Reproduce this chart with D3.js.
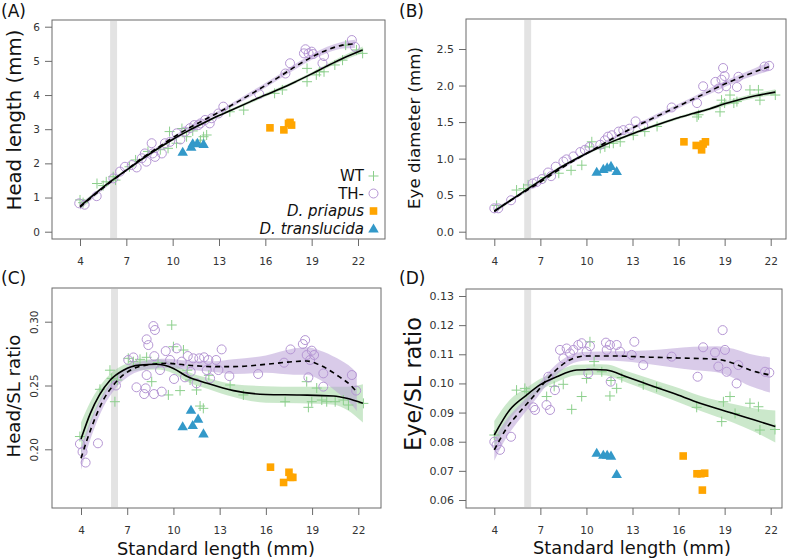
<!DOCTYPE html>
<html><head><meta charset="utf-8">
<script src="https://cdn.jsdelivr.net/npm/d3@7"></script>
<style>body{margin:0;background:#fff}svg{display:block;font-family:"DejaVu Sans",Verdana,sans-serif}</style>
</head><body><svg id="c" width="800" height="560"></svg>
<script>
// ---------- tick labels / categories ----------
const xTicks = [4, 7, 10, 13, 16, 19, 22];
const headTicks = [0, 1, 2, 3, 4, 5, 6];
const eyeTicks = [0, 0.5, 1, 1.5, 2, 2.5];
const headRatioTicks = [0.20, 0.25, 0.30];
const eyeRatioTicks = [0.06, 0.07, 0.08, 0.09, 0.10, 0.11, 0.12, 0.13];
const bandSL = [5.95, 6.4];
const groups = ["WT", "TH-", "D. priapus", "D. translucida"];

// ---------- (A) head length ----------
const wtHead = [[4.0,0.93],[4.2,0.85],[5.1,1.41],[5.5,1.35],[5.7,1.46],[6.15,1.61],[6.3,1.51],[7.2,1.90],[7.6,2.10],[8.4,2.35],[9.2,2.40],[9.7,2.44],[9.8,2.93],[10.25,2.59],[10.6,3.02],[10.9,2.78],[11.3,2.95],[11.8,2.68],[12.0,2.78],[12.2,2.83],[13.7,3.51],[14.6,3.56],[16.6,4.05],[17.1,4.15],[18.7,4.39],[18.7,4.78],[19.3,4.59],[19.5,4.68],[19.8,4.68],[20.5,4.88],[21.0,5.02],[21.2,5.46],[21.9,5.32],[22.3,5.22]];
const thHead = [[3.95,0.83],[4.3,0.79],[5.08,1.04],[6.16,1.56],[6.59,1.76],[6.91,1.90],[7.35,1.95],[7.67,1.88],[8.0,2.15],[8.2,2.29],[8.3,2.05],[8.64,2.59],[8.86,2.19],[8.7,2.29],[9.3,2.29],[9.5,2.59],[9.83,2.63],[10.26,2.88],[10.5,2.70],[10.8,2.93],[11.12,3.03],[11.4,3.12],[11.66,3.12],[11.8,3.17],[12.1,3.27],[12.4,3.17],[12.53,3.32],[12.96,3.46],[13.28,3.66],[15.6,4.03],[17.3,4.63],[17.6,4.93],[18.5,5.22],[18.6,5.34],[18.8,5.22],[19.0,5.27],[19.1,5.20],[19.7,4.93],[19.8,5.14],[21.6,5.61],[21.8,5.41]];
const priHead = [[16.3,3.04],[17.2,2.98],[17.5,3.17],[17.6,3.20],[17.7,3.12]];
const traHead = [[10.65,2.34],[11.2,2.49],[11.3,2.59],[11.6,2.60],[12.0,2.57]];
// fits: [SL, fit, lower, upper]
const wtHeadFit = [[4,0.74,0.66,0.82],[5,1.12,1.07,1.17],[6,1.48,1.44,1.52],[7,1.80,1.76,1.84],[8,2.12,2.08,2.16],[9,2.42,2.38,2.46],[10,2.70,2.66,2.74],[11,2.95,2.91,2.99],[12,3.18,3.14,3.22],[13,3.40,3.36,3.44],[14,3.60,3.56,3.64],[15,3.80,3.75,3.85],[16,4.00,3.95,4.05],[17,4.19,4.14,4.24],[18,4.40,4.35,4.45],[19,4.62,4.57,4.67],[20,4.85,4.79,4.91],[21,5.07,5.00,5.14],[22.3,5.32,5.22,5.42]];
const thHeadFit = [[4,0.72,0.64,0.80],[5,1.10,1.04,1.16],[6,1.46,1.41,1.51],[7,1.80,1.76,1.84],[8,2.15,2.11,2.19],[9,2.45,2.41,2.49],[10,2.75,2.71,2.79],[11,3.02,2.98,3.06],[12,3.26,3.22,3.30],[13,3.50,3.45,3.55],[14,3.75,3.69,3.81],[15,4.01,3.94,4.08],[16,4.28,4.21,4.35],[17,4.56,4.49,4.63],[18,4.85,4.77,4.93],[19,5.11,5.03,5.19],[20,5.32,5.23,5.41],[21,5.46,5.36,5.56],[21.8,5.50,5.38,5.62]];

// ---------- (B) eye diameter ----------
const wtEye = [[4.15,0.36],[5.45,0.57],[5.9,0.59],[6.2,0.64],[7.3,0.74],[8.2,0.80],[9.0,0.84],[9.7,0.91],[10.2,1.16],[10.35,1.23],[10.9,1.14],[11.2,1.16],[11.5,1.21],[11.75,1.21],[12.2,1.23],[13.05,1.32],[13.8,1.37],[14.6,1.44],[17.2,1.57],[17.3,1.60],[18.7,1.64],[18.8,1.80],[19.0,1.76],[19.35,1.87],[19.6,1.76],[19.8,1.78],[20.65,1.94],[21.2,1.94],[21.3,1.80],[22.3,1.87]];
const thEye = [[4.0,0.32],[4.26,0.32],[5.09,0.43],[6.5,0.66],[6.76,0.68],[7.1,0.72],[7.5,0.81],[7.7,0.76],[8.0,0.89],[8.5,0.96],[8.7,0.99],[9.15,1.03],[9.6,1.09],[9.9,1.12],[10.2,1.16],[10.9,1.19],[11.2,1.25],[11.4,1.30],[11.65,1.32],[12.1,1.37],[12.4,1.39],[12.8,1.41],[13.2,1.51],[13.7,1.45],[15.55,1.70],[17.2,1.76],[17.6,1.99],[18.4,2.05],[18.6,1.96],[18.8,2.08],[18.9,2.24],[19.0,2.13],[19.1,1.99],[19.8,1.98],[19.9,2.12],[21.6,2.26],[21.9,2.27]];
const priEye = [[16.35,1.23],[17.15,1.18],[17.5,1.12],[17.6,1.20],[17.75,1.23]];
const traEye = [[10.67,0.82],[11.1,0.86],[11.35,0.88],[11.6,0.90],[11.97,0.83]];
const wtEyeFit = [[4,0.28,0.25,0.31],[5,0.42,0.40,0.44],[6,0.56,0.54,0.58],[7,0.70,0.68,0.72],[8,0.84,0.82,0.86],[9,0.96,0.94,0.98],[10,1.07,1.05,1.09],[11,1.17,1.15,1.19],[12,1.26,1.24,1.28],[13,1.34,1.32,1.36],[14,1.42,1.40,1.44],[15,1.49,1.47,1.51],[16,1.56,1.54,1.58],[17,1.62,1.60,1.64],[18,1.68,1.66,1.70],[19,1.75,1.72,1.78],[20,1.81,1.78,1.84],[21,1.86,1.83,1.89],[22.3,1.91,1.87,1.95]];
const thEyeFit = [[4,0.28,0.25,0.31],[5,0.42,0.40,0.44],[6,0.55,0.53,0.57],[7,0.68,0.66,0.70],[8,0.82,0.80,0.84],[9,0.95,0.93,0.97],[10,1.07,1.05,1.09],[11,1.19,1.17,1.21],[12,1.31,1.29,1.33],[13,1.42,1.40,1.44],[14,1.52,1.49,1.55],[15,1.62,1.59,1.65],[16,1.72,1.69,1.75],[17,1.82,1.79,1.85],[18,1.92,1.88,1.96],[19,2.02,1.98,2.06],[20,2.11,2.07,2.15],[21,2.19,2.14,2.24],[21.9,2.26,2.20,2.32]];

// ---------- (C) head / SL ----------
const wtHeadRatio = [[3.93,0.210],[5.23,0.247],[5.88,0.262],[5.99,0.2556],[6.2,0.2373],[6.36,0.2543],[7.07,0.2713],[7.4,0.2687],[7.83,0.2705],[8.26,0.2721],[8.59,0.253],[9.0,0.268],[9.67,0.2426],[9.89,0.2974],[10.0,0.2804],[10.43,0.246],[10.65,0.2778],[10.9,0.262],[11.08,0.2543],[11.5,0.2465],[11.73,0.2339],[11.94,0.2321],[12.3,0.258],[13.68,0.2504],[14.54,0.2426],[17.25,0.2373],[18.65,0.253],[18.76,0.2329],[18.98,0.2373],[19.3,0.248],[19.63,0.2386],[19.95,0.2373],[20.5,0.2373],[21.03,0.2386],[21.36,0.2347],[22.33,0.236]];
const thHeadRatio = [[3.93,0.2042],[4.1,0.198],[4.3,0.1896],[5.1,0.2047],[6.27,0.250],[7.07,0.270],[7.4,0.272],[7.6,0.2486],[8.1,0.2433],[8.2,0.2478],[8.26,0.2582],[8.37,0.2817],[8.26,0.2862],[8.7,0.2966],[8.8,0.2935],[8.76,0.273],[8.74,0.2433],[9.13,0.2621],[9.24,0.2452],[9.5,0.277],[9.78,0.270],[10.04,0.2551],[10.21,0.2791],[10.54,0.2687],[10.75,0.2564],[10.93,0.2731],[11.12,0.2608],[11.29,0.2713],[11.5,0.2517],[11.68,0.2713],[11.99,0.2721],[12.16,0.2621],[12.27,0.270],[12.38,0.2556],[12.77,0.270],[12.92,0.2621],[13.13,0.2783],[13.63,0.2574],[15.5,0.259],[17.18,0.2679],[17.6,0.2783],[18.4,0.2825],[18.55,0.2856],[18.65,0.2739],[18.76,0.2564],[18.87,0.270],[18.98,0.2773],[19.13,0.2739],[19.73,0.2595],[19.73,0.2491],[21.58,0.2582],[21.86,0.246]];
const priHeadRatio = [[16.3,0.186],[17.15,0.174],[17.5,0.182],[17.6,0.178],[17.75,0.178]];
const traHeadRatio = [[10.6,0.218],[11.14,0.231],[11.25,0.219],[11.6,0.224],[11.95,0.2125]];
const wtHeadRatioFit = [[4,0.208,0.196,0.221],[4.6,0.228,0.219,0.237],[5.2,0.2426,0.236,0.249],[5.9,0.2543,0.249,0.259],[6.75,0.262,0.258,0.266],[7.8,0.266,0.262,0.270],[8.9,0.2666,0.2625,0.2705],[10,0.2634,0.2595,0.2675],[10.9,0.257,0.253,0.261],[12.2,0.2517,0.2475,0.256],[13.9,0.246,0.241,0.251],[16,0.243,0.2365,0.2495],[18.2,0.2426,0.236,0.249],[20.4,0.2418,0.235,0.249],[21.25,0.240,0.231,0.249],[22.3,0.236,0.221,0.251]];
const thHeadRatioFit = [[4,0.193,0.184,0.202],[4.7,0.2178,0.211,0.225],[5.45,0.2386,0.233,0.244],[6.2,0.2517,0.247,0.256],[7.2,0.262,0.258,0.266],[8.26,0.266,0.2625,0.2695],[9.56,0.2674,0.264,0.271],[10.86,0.266,0.2625,0.2695],[12.6,0.2648,0.2605,0.269],[13.9,0.2648,0.259,0.2705],[16,0.2666,0.260,0.2735],[17.8,0.2687,0.2585,0.279],[18.65,0.2692,0.2585,0.280],[19.5,0.266,0.2545,0.2775],[20.6,0.2582,0.245,0.2715],[21.6,0.249,0.2345,0.2635],[21.9,0.245,0.230,0.260]];

// ---------- (D) eye / SL ----------
const wtEyeRatio = [[4.0,0.0823],[5.45,0.0977],[5.99,0.0983],[6.1,0.0972],[7.41,0.0955],[7.9,0.0990],[8.49,0.0997],[9.04,0.0911],[9.69,0.0955],[10.01,0.1017],[10.23,0.1143],[10.5,0.1075],[11.0,0.1040],[11.53,0.0957],[11.6,0.1010],[11.97,0.0983],[12.3,0.1020],[13.7,0.0995],[14.57,0.0987],[17.18,0.0918],[18.81,0.0869],[18.92,0.0937],[19.35,0.0955],[19.68,0.0897],[20.65,0.0932],[21.2,0.0920],[21.3,0.0840],[22.28,0.0842]];
const thEyeRatio = [[4.0,0.080],[4.15,0.0789],[4.37,0.0772],[5.09,0.0817],[6.54,0.0918],[6.65,0.0909],[7.4,0.0926],[7.63,0.0909],[7.52,0.1023],[7.95,0.0977],[8.28,0.1115],[8.5,0.1086],[8.71,0.112],[8.93,0.1103],[9.15,0.1115],[9.47,0.1132],[9.69,0.1138],[10.01,0.1109],[10.23,0.1128],[10.12,0.1035],[11.27,0.114],[11.53,0.1132],[11.32,0.1115],[11.58,0.1006],[11.97,0.1132],[12.19,0.1109],[12.95,0.1098],[13.12,0.1143],[13.7,0.1063],[15.55,0.1092],[17.24,0.1023],[17.6,0.1124],[18.37,0.1106],[18.59,0.1058],[18.87,0.1183],[19.02,0.1115],[19.13,0.104],[19.78,0.100],[19.89,0.1063],[21.63,0.104],[21.91,0.1037]];
const priEyeRatio = [[16.3,0.0751],[17.2,0.0690],[17.45,0.0690],[17.7,0.0692],[17.55,0.0634]];
const traEyeRatio = [[10.67,0.0762],[11.1,0.0755],[11.35,0.0755],[11.6,0.0752],[11.97,0.0689]];
const wtEyeRatioFit = [[4,0.0823,0.0775,0.0871],[5,0.0909,0.0875,0.0943],[6.1,0.096,0.0935,0.0985],[6.97,0.0995,0.0975,0.1015],[8.06,0.1023,0.1005,0.1041],[9.36,0.1046,0.1028,0.1064],[10.45,0.1048,0.103,0.1066],[11.3,0.1046,0.1027,0.1065],[12.6,0.1023,0.1003,0.1043],[14.1,0.0995,0.0973,0.1017],[15.66,0.0966,0.0942,0.099],[17.4,0.0932,0.0906,0.0958],[19.57,0.0897,0.0865,0.0929],[20.9,0.0875,0.0835,0.0915],[22.3,0.0852,0.0797,0.0907]];
const thEyeRatioFit = [[4,0.0772,0.0735,0.0809],[4.8,0.0846,0.0815,0.0877],[5.67,0.0903,0.0878,0.0928],[6.54,0.0955,0.0935,0.0975],[7.4,0.1012,0.0993,0.1031],[8.28,0.1058,0.104,0.1076],[9.15,0.1086,0.107,0.1102],[10,0.1094,0.1079,0.1109],[11.75,0.1094,0.1078,0.111],[14.14,0.109,0.1066,0.1114],[16.96,0.1086,0.1046,0.1126],[18.5,0.1083,0.1038,0.1128],[19.57,0.1069,0.1019,0.1119],[20.65,0.1046,0.0991,0.1101],[21.95,0.1029,0.0969,0.1089]];

// ---------- styles ----------
const C = {wt:"#8ccf8c", th:"#b596d4", pri:"#ffa500", tra:"#3399c9",
           wtRib:"rgba(140,205,140,0.45)", thRib:"rgba(185,160,215,0.55)",
           band:"#e3e3e3", axis:"#6b6b6b", text:"#333"};

const svg = d3.select("#c");

const panels = [
  {lab:"(A)", lx:1, ly:17, box:{l:52,r:385,t:20,b:239}, xr:[80,358], yd:[0,6], yr:[231.7,26.7],
   yt:headTicks, fmt:d3.format("d"), rot:false, yfs:10.5, ytitle:"Head length (mm)", ytx:14, yty:120, ylen:181, xtitle:false,
   wt:wtHead, th:thHead, pri:priHead, tra:traHead, wtFit:wtHeadFit, thFit:thHeadFit, legend:true},
  {lab:"(B)", lx:399, ly:17, box:{l:466,r:786,t:19,b:239}, xr:[494.3,770.7], yd:[0,2.5], yr:[231.7,49],
   yt:eyeTicks, fmt:d3.format(".1f"), rot:false, yfs:11, ytitle:"Eye diameter (mm)", ytx:414, yty:128, ylen:162, xtitle:false,
   wt:wtEye, th:thEye, pri:priEye, tra:traEye, wtFit:wtEyeFit, thFit:thEyeFit},
  {lab:"(C)", lx:1, ly:284, box:{l:52,r:381,t:288,b:508}, xr:[81,358.3], yd:[0.20,0.30], yr:[449.3,321.7],
   yt:headRatioTicks, fmt:d3.format(".2f"), rot:true, yfs:10.5, ytitle:"Head/SL ratio", ytx:14, yty:396, ylen:123, xtitle:true, xtx:216, xty:549,
   wt:wtHeadRatio, th:thHeadRatio, pri:priHeadRatio, tra:traHeadRatio, wtFit:wtHeadRatioFit, thFit:thHeadRatioFit},
  {lab:"(D)", lx:399, ly:284, box:{l:466,r:782,t:289,b:508}, xr:[494.3,770.7], yd:[0.06,0.13], yr:[500,296],
   yt:eyeRatioTicks, fmt:d3.format(".2f"), rot:false, yfs:11, ytitle:"Eye/SL ratio", ytx:413, yty:384, ylen:134, xtitle:true, xtx:632, xty:548,
   wt:wtEyeRatio, th:thEyeRatio, pri:priEyeRatio, tra:traEyeRatio, wtFit:wtEyeRatioFit, thFit:thEyeRatioFit}
];

const crossPath = "M-5,0H5M0,-5V5";
const tri = d3.symbol().type(d3.symbolTriangle).size(48);

function drawSym(g, type, x, y) {
  if (type === 0) g.append("path").attr("d", crossPath).attr("transform", `translate(${x},${y})`)
      .attr("stroke", C.wt).attr("stroke-width", 1).attr("fill", "none");
  else if (type === 1) g.append("circle").attr("cx", x).attr("cy", y).attr("r", 4.5)
      .attr("stroke", C.th).attr("stroke-width", 1).attr("fill", "none");
  else if (type === 2) g.append("rect").attr("x", x - 3.8).attr("y", y - 3.8).attr("width", 7.6).attr("height", 7.6)
      .attr("fill", C.pri);
  else g.append("path").attr("d", tri()).attr("transform", `translate(${x},${y + 1})`).attr("fill", C.tra);
}

// scale a title's font so that its length matches the reference
function fitText(t, base, target) {
  t.attr("font-size", base);
  const L = t.node().getComputedTextLength();
  if (L > 0) t.attr("font-size", (base * target / L).toFixed(2));
}

panels.forEach(p => {
  const g = svg.append("g");
  const x = d3.scaleLinear().domain([4, 22]).range(p.xr);
  const y = d3.scaleLinear().domain(p.yd).range(p.yr);
  const B = p.box;

  g.append("rect").attr("x", x(bandSL[0])).attr("y", B.t + 1).attr("width", x(bandSL[1]) - x(bandSL[0]))
    .attr("height", B.b - B.t - 2).attr("fill", C.band);

  const area = d3.area().x(d => x(d[0])).y0(d => y(d[2])).y1(d => y(d[3])).curve(d3.curveMonotoneX);
  g.append("path").datum(p.wtFit).attr("d", area).attr("fill", C.wtRib);
  g.append("path").datum(p.thFit).attr("d", area).attr("fill", C.thRib);

  p.wt.forEach(d => drawSym(g, 0, x(d[0]), y(d[1])));
  p.th.forEach(d => drawSym(g, 1, x(d[0]), y(d[1])));
  p.pri.forEach(d => drawSym(g, 2, x(d[0]), y(d[1])));
  p.tra.forEach(d => drawSym(g, 3, x(d[0]), y(d[1])));

  const line = d3.line().x(d => x(d[0])).y(d => y(d[1])).curve(d3.curveMonotoneX);
  g.append("path").datum(p.wtFit).attr("d", line).attr("fill", "none").attr("stroke", "#000").attr("stroke-width", 1.6);
  g.append("path").datum(p.thFit).attr("d", line).attr("fill", "none").attr("stroke", "#000").attr("stroke-width", 1.6)
    .attr("stroke-dasharray", "5,4");

  g.append("rect").attr("x", B.l).attr("y", B.t).attr("width", B.r - B.l).attr("height", B.b - B.t)
    .attr("fill", "none").attr("stroke", C.axis).attr("stroke-width", 1);

  const xa = g.append("g").attr("transform", `translate(0,${B.b})`)
    .call(d3.axisBottom(x).tickValues(xTicks).tickSize(7).tickPadding(12).tickFormat(d3.format("d")));
  xa.select(".domain").remove();
  xa.selectAll("line").attr("stroke", C.axis);
  xa.selectAll("text").attr("fill", C.text).attr("font-size", 10.5).attr("font-family", '"DejaVu Sans",Verdana,sans-serif');

  const ya = g.append("g").attr("transform", `translate(${B.l},0)`)
    .call(d3.axisLeft(y).tickValues(p.yt).tickSize(7).tickPadding(5).tickFormat(p.fmt));
  ya.select(".domain").remove();
  ya.selectAll("line").attr("stroke", C.axis);
  ya.selectAll("text").attr("fill", C.text).attr("font-size", p.yfs).attr("font-family", '"DejaVu Sans",Verdana,sans-serif');
  if (p.rot) {
    ya.selectAll("text").attr("transform", "rotate(-90)").attr("x", 0).attr("y", -14).attr("dy", "0")
      .attr("text-anchor", "middle");
  }

  svg.append("text").attr("x", p.lx).attr("y", p.ly).attr("font-size", 17).attr("fill", "#111").text(p.lab);

  const yt = svg.append("text").attr("transform", `translate(${p.ytx},${p.yty}) rotate(-90)`).attr("text-anchor", "middle")
    .attr("dy", "0.35em").attr("fill", "#111").text(p.ytitle);
  fitText(yt, 17, p.ylen);

  if (p.xtitle) {
    const xt = svg.append("text").attr("x", p.xtx).attr("y", p.xty).attr("text-anchor", "middle").attr("dy", "0.35em")
      .attr("fill", "#111").text("Standard length (mm)");
    fitText(xt, 17, 198);
  }

  if (p.legend) {
    const rows = [176, 193.5, 211, 228.5];
    groups.forEach((name, i) => {
      const t = svg.append("text").attr("x", 364).attr("y", rows[i]).attr("dy", "0.35em").attr("text-anchor", "end")
        .attr("font-size", 15).attr("fill", "#111").text(name);
      if (i >= 2) t.attr("font-style", "italic");
      drawSym(svg, i, 373.5, rows[i]);
    });
  }
});
</script></body></html>
